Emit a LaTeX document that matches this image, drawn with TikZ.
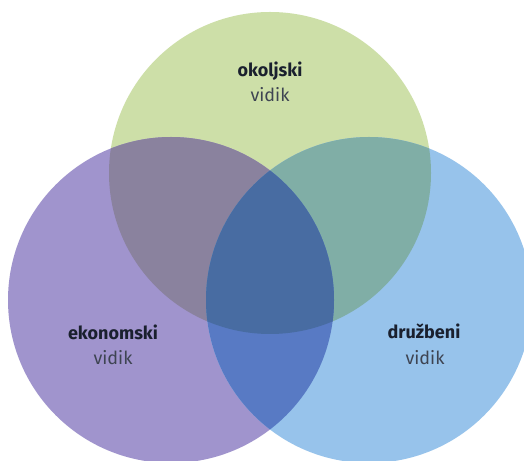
\documentclass[tikz,border=0pt]{standalone}
\usepackage{fontspec}
\setmainfont{Fira Sans}
\usepackage{tikz}
\usetikzlibrary{positioning,calc}
\definecolor{okolje}{RGB}{205,223,168}
\definecolor{ekonomija}{RGB}{160,148,205}
\definecolor{druzba}{RGB}{151,195,235}
\definecolor{okoljeekon}{RGB}{138,130,158}
\definecolor{okoljedruz}{RGB}{128,174,166}
\definecolor{ekondruz}{RGB}{88,122,196}
\definecolor{sredina}{RGB}{72,108,162}
\definecolor{naslov}{RGB}{26,32,46}
\definecolor{podnaslov}{RGB}{62,68,82}
\tikzset{
    naslov/.style={anchor=base, inner sep=0pt, font=\fontsize{18}{21}\selectfont\bfseries, text=naslov},
    vidik/.style={anchor=base, inner sep=0pt, font=\fontsize{18}{21}\selectfont, text=podnaslov}
}
\def\krogO{(270,287) circle (161)}
\def\krogE{(171,160) circle (163)}
\def\krogD{(369,160) circle (163)}

\begin{document}
\begin{tikzpicture}[x=1pt,y=1pt]
    \useasboundingbox (0,0) rectangle (524,460);
    \fill[white] (0,0) rectangle (524,460);
    \begin{scope}
        \clip (0,0) rectangle (524,460);
        % trije vidiki
        \fill[okolje] \krogO;
        \fill[ekonomija] \krogE;
        \fill[druzba] \krogD;
        % preseki
        \begin{scope}
            \clip \krogE;
            \fill[okoljeekon] \krogO;
        \end{scope}
        \begin{scope}
            \clip \krogO;
            \fill[okoljedruz] \krogD;
        \end{scope}
        \begin{scope}
            \clip \krogE;
            \fill[ekondruz] \krogD;
        \end{scope}
        \begin{scope}
            \clip \krogE;
            \clip \krogO;
            \fill[sredina] \krogD;
        \end{scope}
    \end{scope}
    % napisi
    \node[naslov] (okoljski) at (270,383) {okoljski};
    \node[vidik] (okoljskiv) at (270,358) {vidik};
    \node[naslov] (ekonomski) at (113,120) {ekonomski};
    \node[vidik] (ekonomskiv) at (113,95) {vidik};
    \node[naslov] (druzbeni) at (424,121) {družbeni};
    \node[vidik] (druzbeniv) at (425,95) {vidik};
\end{tikzpicture}
\end{document}
